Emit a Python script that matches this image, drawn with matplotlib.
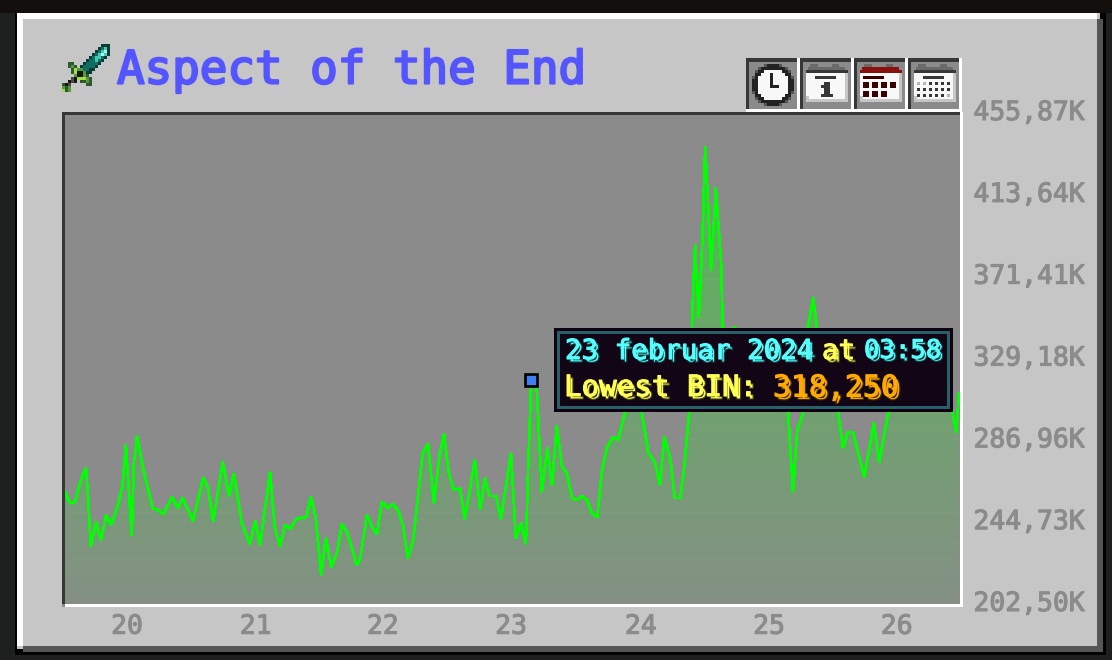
import matplotlib
matplotlib.use("Agg")
import matplotlib.pyplot as plt
import matplotlib.patheffects as pe
from matplotlib.patches import Rectangle
from matplotlib.transforms import ScaledTranslation
import numpy as np

# hours since 20 Feb 00:00 and lowest BIN in thousands
hours = [-11.7, -10.7, -9.8, -8.8, -7.7, -7.3, -6.8, -5.8, -4.9, -3.9, -3.0, -2.1, -0.9, -0.2, 0.4, 0.9, 1.3, 1.9,
         3.2, 4.9, 5.6, 6.8, 8.5, 9.6, 10.5, 12.4, 14.3, 15.2, 16.2, 18.0, 19.2, 20.1, 21.6, 23.1, 24.1, 25.0,
         26.9, 27.8, 28.8, 29.7, 30.8, 31.8, 33.7, 34.6, 35.5, 36.5, 37.4, 38.4, 39.5, 40.4, 41.4, 43.2, 43.8,
         45.1, 46.2, 47.0, 47.9, 49.1, 50.0, 50.9, 51.9, 52.8, 53.8, 55.6, 56.6, 57.7, 58.7, 59.6, 60.5, 61.5,
         62.6, 63.5, 65.4, 66.4, 67.3, 68.2, 69.4, 70.3, 72.2, 73.1, 74.1, 75.0, 75.4, 76.0, 77.0, 78.0, 79.0,
         79.9, 80.8, 81.8, 82.7, 83.7, 84.6, 85.5, 86.5, 87.4, 88.4, 89.3, 90.2, 91.4, 92.3, 93.6, 94.6, 95.7,
         96.8, 98.0, 99.3, 100.2, 101.0, 102.1, 103.0, 104.0, 104.7, 105.7, 106.4, 106.8, 107.5, 108.1, 108.7,
         109.2, 109.8, 110.7, 111.7, 112.0, 113.2, 114.3, 116.2, 119.0, 121.8, 123.7, 124.3, 125.2, 126.0, 127.1,
         128.0, 129.0, 129.7, 131.2, 132.5, 133.7, 134.6, 135.5, 136.5, 138.6, 140.4, 141.4, 143.1, 144.4, 147.2,
         150.0, 152.8, 155.1, 155.9, 156.4]
lowest_bin = [260.3, 254.6, 255.1, 265.4, 272.7, 257.7, 232.4, 244.8, 235.5, 248.4, 243.3, 250.0, 262.4, 284.5, 259.8, 238.1, 275.3, 289.2,
              270.6, 251.5, 251.5, 248.9, 257.7, 252.0, 257.2, 245.3, 267.5, 262.9, 245.3, 275.8, 258.2, 269.6, 244.3, 233.5, 245.3, 232.9,
              270.6, 242.2, 232.4, 243.3, 241.2, 246.4, 247.4, 257.7, 246.9, 217.5, 236.6, 221.6, 229.3, 243.8, 239.7, 222.6, 225.2,
              248.4, 241.7, 238.6, 255.1, 252.0, 254.1, 251.0, 243.3, 226.2, 235.5, 280.4, 285.1, 254.6, 278.4, 290.2, 270.1, 261.3,
              262.4, 246.4, 276.8, 251.5, 267.5, 258.2, 258.2, 246.4, 280.4, 236.6, 244.3, 233.5, 271.6, 318.25, 315.5, 260.3, 283.0,
              263.9, 294.3, 273.2, 270.1, 257.2, 256.2, 258.2, 256.2, 249.5, 247.4, 271.6, 283.0, 288.7, 287.1, 301.1, 310.3, 315.5,
              301.1, 280.9, 275.3, 263.9, 288.7, 278.4, 257.2, 257.2, 271.6, 301.6, 360.9, 387.7, 350.6, 385.2, 438.3,
              412.0, 374.8, 417.2, 378.5, 345.4, 342.3, 345.4, 318.1, 323.2, 328.4, 310.3, 301.1, 260.3, 292.3, 301.1,
              345.4, 360.4, 345.4, 323.2, 312.9, 301.1, 283.0, 291.3, 291.3, 268.0, 295.9, 275.8, 301.1, 318.1, 328.4,
              323.2, 315.5, 302.6, 291.3, 311.4]
day_ticks = [0, 24.2, 48.1, 72.2, 96.6, 120.7, 144.7]
day_labels = ["20", "21", "22", "23", "24", "25", "26"]
price_ticks = [202.50, 244.73, 286.96, 329.18, 371.41, 413.64, 455.87]
price_labels = ["202,50K", "244,73K", "286,96K", "329,18K", "371,41K", "413,64K", "455,87K"]
hover_hour = 76.0
hover_price = 318.25

W, H = 1112, 660
MONO = "DejaVu Sans Mono"
GREY = "#c6c6c6"
SLOT = "#8b8b8b"
DARK = "#373737"

SWORD = ["-------------ddd",
         "------------dtcd",
         "-----------dtcwd",
         "----------dtcwcd",
         "---------dtcctd-",
         "--------dttctd--",
         "--GG---dttttd---",
         "--GgG-dttttd----",
         "---Glggttdd-----",
         "---Glkkgdd------",
         "----gkkgG-------",
         "---sklllgG------",
         "--ksk-GGgG------",
         "Gks-----GG------",
         "gGg-------------",
         "lGg-------------"]
SWORD_COLORS = {"d": "#0a3a36", "t": "#0f6e62", "c": "#45c9b4", "w": "#aef7e6", "G": "#2c5a2c",
                "g": "#55993c", "l": "#a3dc45", "k": "#17170f", "s": "#4a4a4a"}
CLOCK = ["----gkkkkg----",
         "--gkkkkkkkkg--",
         "-gkkwwwwwwkkg-",
         "-kkwwwkwwwwkk-",
         "gkwwwwkwwwwwkg",
         "kkwwwwkwwwwwkk",
         "kkwwwwkwwwwwkk",
         "kkwwwwkkkwwwkk",
         "kkwwwwwwwwwwkk",
         "gkwwwwwwwwwwkg",
         "-kkwwwwwwwwkk-",
         "-gkkwwwwwwkkg-",
         "--gkkkkkkkkg--",
         "----gkkkkg----"]
CLOCK_COLORS = {"g": "#555555", "k": "#222222", "w": "#f8f8f8"}


def sprite(ax, rows, colors, x0, y0, px=3):
    for r, row in enumerate(rows):
        for c, ch in enumerate(row):
            if ch in colors:
                ax.add_patch(Rectangle((x0 + c * px, y0 + r * px), px, px, fc=colors[ch], lw=0))


def box(ax, x0, y0, x1, y1, color):
    ax.add_patch(Rectangle((x0, y0), x1 - x0, y1 - y0, fc=color, lw=0))


def calendar(ax, x, header, band, tab):
    # x is the left edge of the button
    box(ax, x + 10, 64, x + 18, 67, tab)
    box(ax, x + 32, 64, x + 39, 67, tab)
    box(ax, x + 8, 67, x + 45, 70, band)
    box(ax, x + 6, 70, x + 48, 73, header)
    box(ax, x + 6, 73, x + 48, 102, "#f8f8f8")
    box(ax, x + 45, 73, x + 48, 102, "#c6c6c6")
    box(ax, x + 9, 99, x + 48, 102, "#c6c6c6")
    box(ax, x + 6, 96, x + 9, 102, "#c6c6c6")


def shadow_text(ax, x, y, s, color, shade, size):
    # the drop shadow is a stroke shifted 3 px right and down
    ax.text(x, y, s, color=color, family=MONO, fontsize=size, va="center", ha="left",
            path_effects=[pe.Stroke(offset=(2.16, -2.16), linewidth=0.8, foreground=shade),
                          pe.Stroke(linewidth=0.8, foreground=color), pe.Normal()])


fig = plt.figure(figsize=(W / 100, H / 100), dpi=100, facecolor="#1e2020")

back = fig.add_axes([0, 0, 1, 1], zorder=0)
back.set_xlim(0, W)
back.set_ylim(H, 0)
back.axis("off")
box(back, 0, 0, W, 13, "#120f0c")
box(back, 15, 13, 1106, 655, "#000000")
box(back, 17, 13, 1097, 646, "#ffffff")
box(back, 23, 19, 1103, 652, "#555555")
box(back, 23, 19, 1097, 646, GREY)
box(back, 1097, 13, 1100, 19, GREY)
box(back, 17, 646, 23, 649, GREY)
box(back, 62, 112, 963, 607, DARK)
box(back, 65, 115, 963, 607, "#ffffff")
box(back, 62, 604, 65, 607, SLOT)

# price chart, placed at its pixel box
ax = fig.add_axes([65 / W, 1 - 604 / H, 895 / W, 491 / H], zorder=1, facecolor=SLOT)
for side in ax.spines:
    ax.spines[side].set_visible(False)
ax.set_xticks(day_ticks)
ax.set_xticklabels(day_labels)
ax.set_yticks(price_ticks)
ax.set_yticklabels(price_labels)
ax.yaxis.tick_right()
ax.tick_params(axis="x", length=0, pad=7, labelcolor=SLOT, labelsize=19)
ax.tick_params(axis="y", length=0, pad=9.7, labelcolor=SLOT, labelsize=19)
for lab in ax.get_xticklabels() + ax.get_yticklabels():
    lab.set_family(MONO)
    lab.set_path_effects([pe.withStroke(linewidth=0.8, foreground=SLOT)])
# price labels sit a little above their ticks
nudge = ScaledTranslation(0, 0.03, fig.dpi_scale_trans)
for tick in ax.yaxis.get_major_ticks():
    tick.label2.set_transform(tick.label2.get_transform() + nudge)

fill = ax.fill_between(hours, lowest_bin, 202.5, color="none", lw=0)
ramp = np.zeros((256, 2, 4))
ramp[:, :, 1] = 1.0
ramp[:, :, 3] = np.linspace(0.40, 0.05, 256)[:, None]
img = ax.imshow(ramp, extent=[-11.65, 156.6, 202.5, 455.87], aspect="auto", zorder=1, interpolation="bilinear")
img.set_clip_path(fill.get_paths()[0], transform=ax.transData)
ax.set_xlim(-11.65, 156.6)
ax.set_ylim(202.5, 455.87)
ax.plot(hours, lowest_bin, color="#00ff00", lw=1.25, antialiased=False, zorder=2, solid_joinstyle="round")
ax.plot([hover_hour], [hover_price], marker="s", ms=9, mfc="#3f7ff0", mec="#000000", mew=1.9, zorder=3)

top = fig.add_axes([0, 0, 1, 1], zorder=2)
top.set_xlim(0, W)
top.set_ylim(H, 0)
top.axis("off")

# chart frame sits over the plot area edges
box(top, 62, 112, 960, 115, DARK)
box(top, 960, 112, 963, 607, "#ffffff")
box(top, 65, 604, 963, 607, "#ffffff")

sprite(top, SWORD, SWORD_COLORS, 62, 44)
top.text(117, 71, "Aspect of the End", color="#5555ff", family=MONO, fontsize=33, va="center", ha="left",
         path_effects=[pe.withStroke(linewidth=1.6, foreground="#5555ff")])

# range buttons
for x in [746, 800, 854, 908]:
    box(top, x, 58, x + 54, 112, "#ffffff")
    box(top, x, 58, x + 51, 109, DARK)
    box(top, x + 3, 62, x + 51, 109, SLOT)
sprite(top, CLOCK, CLOCK_COLORS, 752, 64)
calendar(top, 800, "#373737", "#6a6a6a", "#6a6a6a")
box(top, 815, 76, 836, 79, "#373737")
box(top, 824, 82, 830, 94, "#373737")
box(top, 821, 85, 824, 88, "#373737")
box(top, 821, 94, 833, 97, "#373737")
calendar(top, 854, "#8b1010", "#8b1010", "#6a6a6a")
box(top, 863, 76, 884, 79, "#3a0000")
for cx in [863, 872, 881, 890]:
    box(top, cx, 82, cx + 6, 88, "#3a0000")
for cx in [863, 872, 881]:
    box(top, cx, 91, cx + 6, 97, "#3a0000")
calendar(top, 908, "#373737", "#6a6a6a", "#6a6a6a")
box(top, 923, 76, 944, 79, "#373737")
for row_y, light in [(82, [917, 923]), (88, []), (94, [947])]:
    for cx in [917, 923, 929, 935, 941, 947]:
        box(top, cx, row_y, cx + 3, row_y + 3, "#b5b5b5" if cx in light else "#373737")

# hover tooltip
box(top, 554, 328, 953, 412, "#100010")
box(top, 557, 331, 950, 409, "#28606a")
box(top, 560, 334, 947, 406, "#120616")
shadow_text(top, 565, 351, "23 februar 2024", "#55ffff", "#153f3f", 19.8)
shadow_text(top, 822, 351, "at", "#ffff55", "#3f3f15", 19.8)
shadow_text(top, 864, 351, "03:58", "#55ffff", "#153f3f", 18.5)
shadow_text(top, 564, 388, "Lowest BIN:", "#ffff55", "#3f3f15", 21)
shadow_text(top, 773, 388, "318,250", "#ffaa00", "#3f2a00", 21.5)

fig.savefig("out.png", dpi=100, facecolor=fig.get_facecolor())
